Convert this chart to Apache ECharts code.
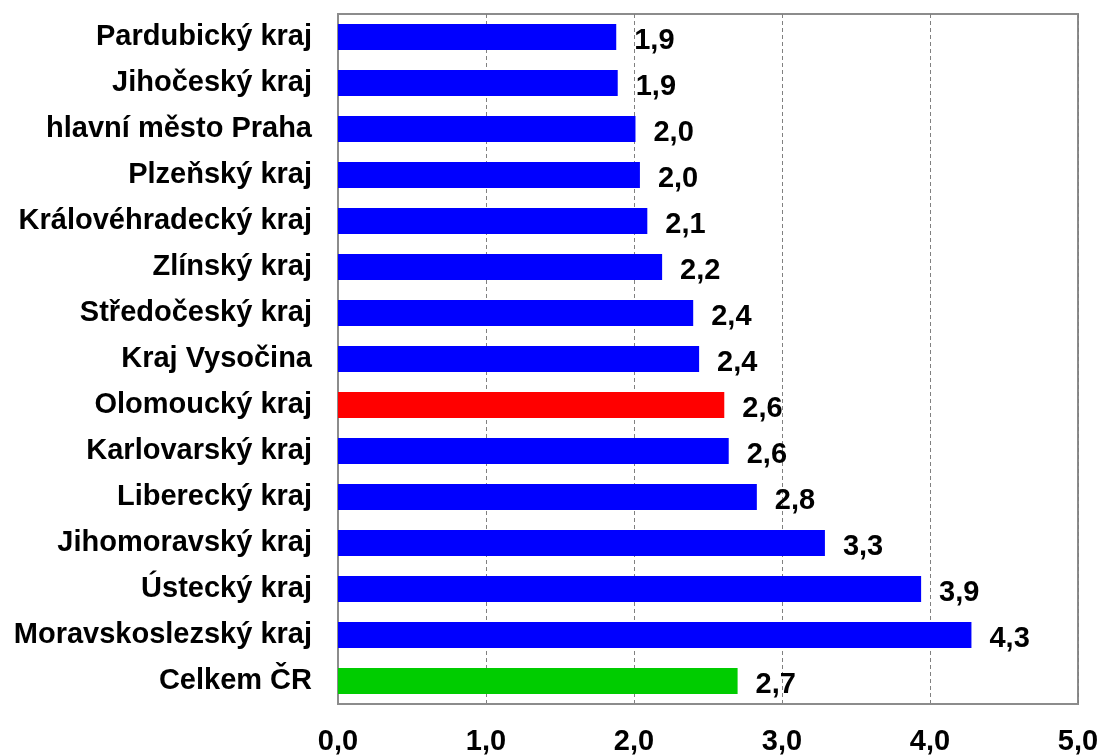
<!DOCTYPE html>
<html>
<head>
<meta charset="utf-8">
<script src="https://cdn.jsdelivr.net/npm/echarts@6/dist/echarts.min.js"></script>
<style>
html,body{margin:0;padding:0;background:#fff;}
#chart{width:1102px;height:756px;}
</style>
</head>
<body>
<div id="chart"></div>
<script>
const categories = [
  'Pardubický kraj', 'Jihočeský kraj', 'hlavní město Praha', 'Plzeňský kraj',
  'Královéhradecký kraj', 'Zlínský kraj', 'Středočeský kraj', 'Kraj Vysočina',
  'Olomoucký kraj', 'Karlovarský kraj', 'Liberecký kraj', 'Jihomoravský kraj',
  'Ústecký kraj', 'Moravskoslezský kraj', 'Celkem ČR'
];
const values = [1.88, 1.89, 2.01, 2.04, 2.09, 2.19, 2.40, 2.44, 2.61, 2.64, 2.83, 3.29, 3.94, 4.28, 2.70];
const xTicks = [0, 1, 2, 3, 4, 5];
const highlightRegion = 'Olomoucký kraj';
const totalLabel = 'Celkem ČR';

const fmt = v => Number(v).toFixed(1).replace('.', ',');
const FONT = "'Liberation Sans', Arial, sans-serif";

const chart = echarts.init(document.getElementById('chart'), null, {renderer: 'canvas'});
chart.setOption({
  animation: false,
  backgroundColor: '#ffffff',
  grid: {
    left: 338, right: 24, top: 14, bottom: 52,
    show: true, borderColor: '#8c8c8c', borderWidth: 2, containLabel: false
  },
  xAxis: {
    type: 'value',
    min: xTicks[0], max: xTicks[xTicks.length - 1], interval: 1,
    axisLine: {show: true, lineStyle: {color: '#8c8c8c', width: 2}},
    axisTick: {show: false},
    splitLine: {show: true, lineStyle: {color: '#808080', type: [4, 3], width: 1}},
    axisLabel: {
      formatter: fmt, color: '#000', fontSize: 29, fontWeight: 'bold',
      fontFamily: FONT, margin: 23
    }
  },
  yAxis: {
    type: 'category',
    data: categories,
    inverse: true,
    axisLine: {show: true, lineStyle: {color: '#8c8c8c', width: 2}},
    axisTick: {show: false},
    splitLine: {show: false},
    axisLabel: {
      color: '#000', fontSize: 29, fontWeight: 'bold', fontFamily: FONT, margin: 26,
      padding: [5, 0, 0, 0]
    }
  },
  series: [{
    type: 'bar',
    data: values,
    barWidth: 26,
    itemStyle: {
      color: p => p.name === highlightRegion ? '#ff0000' : (p.name === totalLabel ? '#00cc00' : '#0000ff')
    },
    label: {
      show: true, position: 'right', distance: 18, offset: [0, 4],
      formatter: p => fmt(p.value),
      color: '#000', fontSize: 29, fontWeight: 'bold', fontFamily: FONT
    }
  }]
});
</script>
</body>
</html>
